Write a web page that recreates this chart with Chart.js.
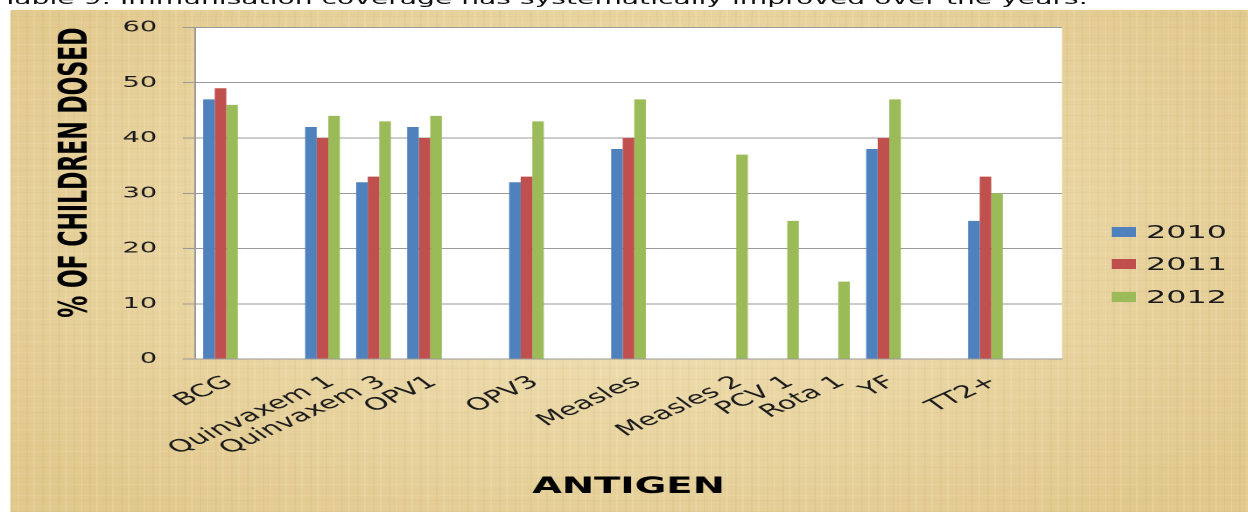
<!DOCTYPE html>
<html>
<head>
<meta charset="utf-8">
<script src="https://cdn.jsdelivr.net/npm/chart.js@4.4.1/dist/chart.umd.min.js"></script>
<style>
  html, body { margin: 0; padding: 0; background: #fff; overflow: hidden; }
  body { width: 1248px; height: 512px; position: relative; }
  /* the source picture is stretched in width: draw at 713px, then stretch */
  #stage { position: absolute; left: 0; top: 0; width: 713px; height: 512px;
           transform-origin: 0 0; transform: scaleX(1.7504); }
  #titre { position: absolute; left: 1px; top: -11px; white-space: nowrap;
           font: 16.1px 'DejaVu Sans'; line-height: 20px; color: #111; }
  #papier { position: absolute; left: 6px; top: 10px; right: 0; bottom: 0;
            background-color: #e8d5a0;
            background-image:
              repeating-linear-gradient(90deg, rgba(160,120,50,0.06) 0 1px, transparent 1px 4px, rgba(255,250,230,0.12) 4px 5px, transparent 5px 9px),
              repeating-linear-gradient(0deg, rgba(160,120,50,0.04) 0 1px, transparent 1px 5px, rgba(255,250,230,0.08) 5px 6px, transparent 6px 11px),
              radial-gradient(ellipse at 50% 45%, rgba(255,248,222,0.45), rgba(210,170,95,0.3) 90%); }
  #chartBox { position: absolute; left: 0; top: 0; width: 713px; height: 512px; }
  #legende { position: absolute; left: 635.3px; top: 221px; }
  #legende .item { position: absolute; left: 0; height: 22px; display: flex; align-items: center;
                   font: 18.2px 'DejaVu Sans'; line-height: 22px; color: #1a1a1a; white-space: nowrap; }
  #legende .boite { width: 13.7px; height: 10px; margin-right: 5.7px; }
</style>
</head>
<body>
<div id="stage">
  <div id="titre">Table 9: Immunisation coverage has systematically improved over the years.</div>
  <div id="papier"></div>
  <div id="chartBox"><canvas id="barChart"></canvas></div>
  <div id="legende"></div>
</div>
<script>
// ── Données (empty categories are blank slots in the original) ──
const antigenes = ['BCG', '', 'Quinvaxem 1', 'Quinvaxem 3', 'OPV1', '', 'OPV3', '', 'Measles', '',
                   'Measles 2', 'PCV 1', 'Rota 1', 'YF', '', 'TT2+', ''];
const annees = ['2010', '2011', '2012'];
const valeurs2010 = [47, null, 42, 32, 42, null, 32, null, 38, null, null, null, null, 38, null, 25, null];
const valeurs2011 = [49, null, 40, 33, 40, null, 33, null, 40, null, null, null, null, 40, null, 33, null];
const valeurs2012 = [46, null, 44, 43, 44, null, 43, null, 47, null, 37, 25, 14, 47, null, 30, null];
const couleurs = ['#4f81bd', '#c0504d', '#9bbb59'];
const yTicks = [0, 10, 20, 30, 40, 50, 60];

// fond blanc de la zone de tracé
const fondBlanc = {
  id: 'fondBlanc',
  beforeDraw(chart) {
    const { ctx, chartArea: a } = chart;
    ctx.save();
    ctx.fillStyle = '#ffffff';
    ctx.fillRect(a.left, a.top, a.right - a.left, a.bottom - a.top);
    ctx.restore();
  }
};

const ctxBar = document.getElementById('barChart').getContext('2d');
const chart = new Chart(ctxBar, {
  type: 'bar',
  data: {
    labels: antigenes,
    datasets: [valeurs2010, valeurs2011, valeurs2012].map((d, i) => ({
      label: annees[i],
      data: d,
      backgroundColor: couleurs[i],
      borderWidth: 0
    }))
  },
  options: {
    responsive: true,
    maintainAspectRatio: false,
    animation: false,
    devicePixelRatio: 2,
    datasets: { bar: { categoryPercentage: 0.68, barPercentage: 1 } },
    layout: { padding: { left: 0, top: 27.5, right: 106.3, bottom: 0 } },
    plugins: { legend: { display: false }, tooltip: { enabled: false } },
    scales: {
      x: {
        grid: { display: false },
        border: { display: true, color: '#9a9a9a' },
        ticks: {
          autoSkip: false, minRotation: 38, maxRotation: 38, padding: 5, labelOffset: 5,
          color: '#1a1a1a', font: { family: 'DejaVu Sans', size: 17.3 }
        },
        title: {
          display: true, text: 'ANTIGEN', color: '#000',
          font: { family: 'DejaVu Sans', size: 22, weight: 'bold' },
          padding: { top: 0, bottom: 11.4 }
        },
        afterFit: (scale) => { scale.height = 153; }
      },
      y: {
        min: 0, max: 60,
        afterBuildTicks: (scale) => { scale.ticks = yTicks.map(v => ({ value: v })); },
        grid: { color: '#9a9a9a', tickLength: 7 },
        border: { display: true, color: '#9a9a9a' },
        ticks: { padding: 14.7, color: '#1a1a1a', font: { family: 'DejaVu Sans', size: 15.5 } },
        title: {
          display: true, text: '% OF CHILDREN DOSED', color: '#000', align: 'end',
          font: { family: 'DejaVu Sans', size: 22, weight: 'bold' },
          padding: { top: 30.5, bottom: 0 }
        },
        afterFit: (scale) => { scale.width = 111.4; }
      }
    }
  },
  plugins: [fondBlanc]
});

// ── Légende HTML à droite ──
const legende = document.getElementById('legende');
chart.options.plugins.legend.labels.generateLabels(chart).forEach((item, i) => {
  const ligne = document.createElement('div');
  ligne.className = 'item';
  ligne.style.top = (i * 32.4) + 'px';
  const boite = document.createElement('span');
  boite.className = 'boite';
  boite.style.background = item.fillStyle;
  const texte = document.createElement('span');
  texte.textContent = item.text;
  ligne.appendChild(boite);
  ligne.appendChild(texte);
  legende.appendChild(ligne);
});
</script>
</body>
</html>
